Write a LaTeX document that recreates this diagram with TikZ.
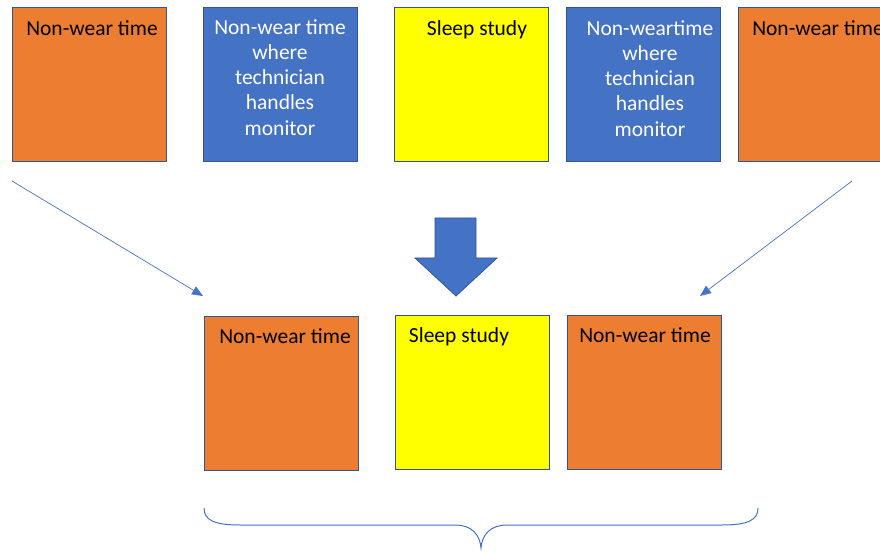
\documentclass[tikz,border=0pt]{standalone}
\usepackage{fontspec}
\setmainfont{Carlito}
\usetikzlibrary{arrows.meta}
\definecolor{orng}{HTML}{ED7D31}
\definecolor{blu}{HTML}{4472C4}
\definecolor{yel}{HTML}{FFFF00}
\definecolor{edge}{HTML}{2F5597}
\tikzset{
  box/.style={draw=edge, line width=0.9pt, minimum width=154pt, minimum height=154pt, inner sep=0pt, anchor=north west},
  obox/.style={box, fill=orng},
  bbox/.style={box, fill=blu},
  ybox/.style={box, fill=yel},
  lbl/.style={font=\fontsize{21.5pt}{25pt}\selectfont, anchor=base, inner sep=0pt},
  wlbl/.style={lbl, text=white},
  thin/.style={draw=blu, line width=0.7pt, -{Triangle[length=11pt,width=9pt]}},
}
\begin{document}
\begin{tikzpicture}[x=1pt,y=-1pt]
\useasboundingbox (0,0) rectangle (880,553);
\clip (0,0) rectangle (880,553);
% top row
\node[obox] (b1) at (12,7) {};
\node[bbox] (b2) at (203,7) {};
\node[ybox] (b3) at (394,7) {};
\node[bbox] (b4) at (566,7) {};
\node[obox] (b5) at (738,7) {};
\node[lbl] (t1) at (92,36) {Non-wear time};
\node[lbl] (t3) at (477,36) {Sleep study};
\node[lbl] (t5) at (818,36) {Non-wear time};
\node[wlbl] (t2a) at (280,35) {Non-wear time};
\node[wlbl] (t2b) at (280,60) {where};
\node[wlbl] (t2c) at (280,85) {technician};
\node[wlbl] (t2d) at (280,110) {handles};
\node[wlbl] (t2e) at (280,136) {monitor};
\node[wlbl] (t4a) at (650,36) {Non-weartime};
\node[wlbl] (t4b) at (650,61) {where};
\node[wlbl] (t4c) at (650,86) {technician};
\node[wlbl] (t4d) at (650,111) {handles};
\node[wlbl] (t4e) at (650,137) {monitor};
% bottom row
\node[obox] (b6) at (204,316) {};
\node[ybox] (b7) at (395,315) {};
\node[obox] (b8) at (567,315) {};
\node[lbl] (t6) at (285,343) {Non-wear time};
\node[lbl] (t7) at (459,342) {Sleep study};
\node[lbl] (t8) at (645,342) {Non-wear time};
% thin arrows
\coordinate (l1) at (12,181);
\coordinate (l2) at (203,296);
\coordinate (r1) at (852,181);
\coordinate (r2) at (700,296);
\draw[thin] (l1) -- (l2);
\draw[thin] (r1) -- (r2);
% block arrow
\draw[fill=blu, draw=edge, line width=0.8pt]
  (435,218) -- (476,218) -- (476,258) -- (497,258) -- (456,296) -- (415,258) -- (435,258) -- cycle;
% brace
\draw[blu, line width=1pt]
  (204,508) .. controls (204,520) and (214,525) .. (240,525)
  -- (455,525) .. controls (472,525) and (480,535) .. (481,548)
  .. controls (482,535) and (490,525) .. (507,525)
  -- (722,525) .. controls (748,525) and (758,520) .. (758,508);
\end{tikzpicture}
\end{document}
